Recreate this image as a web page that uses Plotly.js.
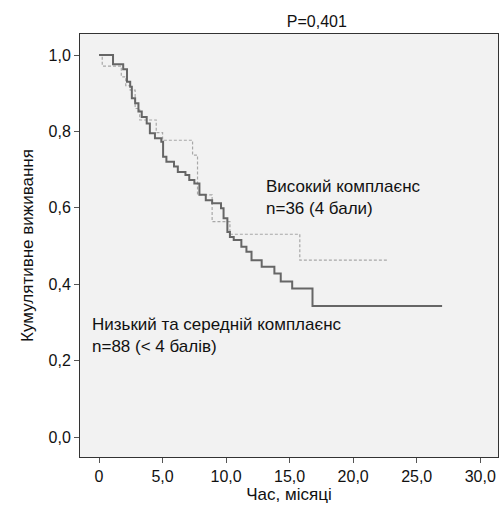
<!DOCTYPE html>
<html>
<head>
<meta charset="utf-8">
<script src="https://cdn.plot.ly/plotly-3.0.1.min.js"></script>
<style>body{margin:0;background:#fff}</style>
</head>
<body>
<div id="chart"></div>
<script>
// low / medium compliance (n=88), solid
const low_time = [0, 1.1, 1.9, 2.2, 2.45, 2.58, 2.84, 3.1, 3.36, 3.75, 4.0, 4.4, 4.9, 5.04, 5.3, 5.9, 6.2, 6.8, 7.1, 7.5, 7.9, 8.4, 8.9, 9.6, 9.8, 10.1, 10.3, 10.6, 11.2, 11.6, 12.0, 12.8, 13.8, 14.3, 15.2, 16.8, 27.0];
const low_surv = [1.0, 0.976, 0.963, 0.93, 0.917, 0.887, 0.874, 0.852, 0.838, 0.821, 0.795, 0.782, 0.773, 0.734, 0.721, 0.708, 0.694, 0.686, 0.673, 0.664, 0.634, 0.620, 0.612, 0.599, 0.573, 0.537, 0.524, 0.516, 0.498, 0.485, 0.463, 0.446, 0.428, 0.407, 0.389, 0.343, 0.343];
// high compliance (n=36), dashed
const high_time = [0, 0.25, 1.75, 2.1, 2.45, 2.84, 3.2, 4.5, 5.0, 7.36, 7.75, 8.9, 10.3, 15.8, 22.7];
const high_surv = [1.0, 0.971, 0.943, 0.92, 0.908, 0.86, 0.83, 0.797, 0.777, 0.738, 0.634, 0.564, 0.531, 0.463, 0.463];

const x_ticks = [0, 5, 10, 15, 20, 25, 30];
const x_labels = ["0", "5,0", "10,0", "15,0", "20,0", "25,0", "30,0"];
const y_ticks = [0, 0.2, 0.4, 0.6, 0.8, 1.0];
const y_labels = ["0,0", "0,2", "0,4", "0,6", "0,8", "1,0"];

const traces = [
    {
        x: high_time, y: high_surv, mode: "lines",
        line: { shape: "hv", color: "#a8a8a8", width: 1.2, dash: "3px,2px" },
        hoverinfo: "skip"
    },
    {
        x: low_time, y: low_surv, mode: "lines",
        line: { shape: "hv", color: "#666666", width: 2 },
        hoverinfo: "skip"
    }
];

const font = { family: "Liberation Sans, Arial, sans-serif", size: 16, color: "#111" };
const layout = {
    width: 499, height: 511,
    margin: { l: 80, r: 1, t: 34, b: 54 },
    paper_bgcolor: "#ffffff", plot_bgcolor: "#f2f2f2",
    showlegend: false, font: font,
    title: { text: "P=0,401", x: 0.635, xanchor: "center", y: 0.958, yanchor: "middle", font: { size: 16 } },
    xaxis: {
        range: [-1.5, 31.4], tickvals: x_ticks, ticktext: x_labels,
        ticks: "outside", ticklen: 5, tickcolor: "#555", showgrid: false, zeroline: false,
        showline: true, linecolor: "#333", mirror: true,
        title: { text: "Час, місяці", standoff: 0, font: { size: 17 } }
    },
    yaxis: {
        range: [-0.052, 1.055], tickvals: y_ticks, ticktext: y_labels,
        ticks: "outside", ticklen: 5, tickcolor: "#555", showgrid: false, zeroline: false,
        showline: true, linecolor: "#333", mirror: true,
        title: { text: "Кумулятивне виживання", standoff: 10, font: { size: 17 } }
    },
    annotations: [
        { x: 13.0, y: 0.685, xanchor: "left", yanchor: "top", align: "left", showarrow: false,
          text: "Високий комплаєнс<br>n=36 (4 бали)", font: { size: 17 } },
        { x: -0.7, y: 0.325, xanchor: "left", yanchor: "top", align: "left", showarrow: false,
          text: "Низький та середній комплаєнс<br>n=88 (< 4 балів)", font: { size: 17 } }
    ]
};
Plotly.newPlot("chart", traces, layout, { displayModeBar: false, staticPlot: true });
</script>
</body>
</html>
